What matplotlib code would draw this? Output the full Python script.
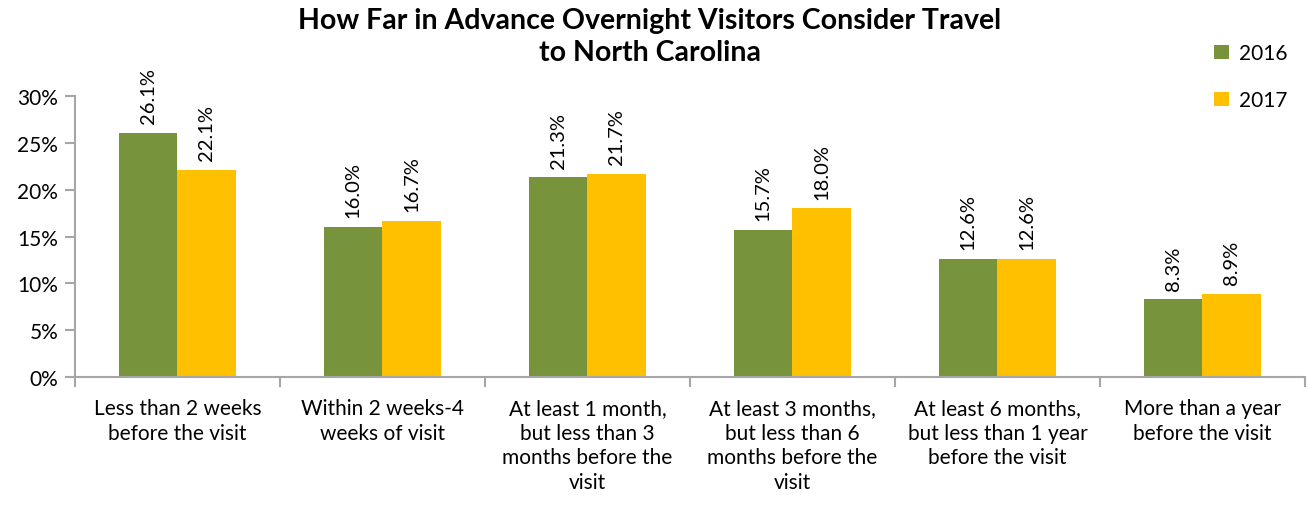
"""
advance planning chart for overnight visitors
"""
import numpy as np
import matplotlib.pyplot as plt

categories = [
    'Less than 2 weeks\nbefore the visit',
    'Within 2 weeks-4\nweeks of visit',
    'At least 1 month,\nbut less than 3\nmonths before the\nvisit',
    'At least 3 months,\nbut less than 6\nmonths before the\nvisit',
    'At least 6 months,\nbut less than 1 year\nbefore the visit',
    'More than a year\nbefore the visit',
]
values_2016 = [26.1, 16.0, 21.3, 15.7, 12.6, 8.3]
values_2017 = [22.1, 16.7, 21.7, 18.0, 12.6, 8.9]
series_labels = ['2016', '2017']

GREEN = '#77933C'
YELLOW = '#FFC000'
AXIS_GRAY = '#A6A6A6'

plt.rcParams['font.family'] = ['Lato', 'DejaVu Sans']

fig = plt.figure(figsize=(13.13, 5.10), dpi=100)
ax = fig.add_axes([0.0571, 0.2588, 0.9368, 0.551])

x = np.arange(len(categories))
width = 0.285

bars16 = ax.bar(x - width / 2, values_2016, width, color=GREEN, label=series_labels[0])
bars17 = ax.bar(x + width / 2, values_2017, width, color=YELLOW, label=series_labels[1])

for bars in (bars16, bars17):
    for rect in bars:
        h = rect.get_height()
        ax.annotate(f'{h:.1f}%', (rect.get_x() + rect.get_width() / 2, h),
                    xytext=(0, 7), textcoords='offset points',
                    rotation=90, ha='center', va='bottom', fontsize=14.5)

ax.set_xlim(-0.5, len(categories) - 0.5)
ax.set_ylim(0, 30)
ax.set_yticks(np.arange(0, 31, 5))
ax.set_yticklabels([f'{v}%' for v in range(0, 31, 5)], fontsize=15)

# boundaries as major ticks, labels on minor ticks
ax.set_xticks(np.arange(-0.5, len(categories)), minor=False)
ax.set_xticklabels([])
ax.set_xticks(x, minor=True)
ax.set_xticklabels(categories, minor=True, fontsize=15, linespacing=1.3, va='top')
ax.tick_params(axis='x', which='minor', length=0, pad=15)
ax.tick_params(axis='x', which='major', length=7, color=AXIS_GRAY, width=1.5)
ax.tick_params(axis='y', length=7, color=AXIS_GRAY, width=1.5, pad=5)

for side in ('top', 'right'):
    ax.spines[side].set_visible(False)
for side in ('left', 'bottom'):
    ax.spines[side].set_color(AXIS_GRAY)
    ax.spines[side].set_linewidth(1.5)

fig.text(0.495, 0.985, 'How Far in Advance Overnight Visitors Consider Travel\nto North Carolina',
         ha='center', va='top', fontsize=20.5, fontweight='bold', linespacing=1.28)

fig.legend(loc='upper right', bbox_to_anchor=(0.995, 0.95), frameon=False,
           fontsize=15, handlelength=0.7, handleheight=0.7, labelspacing=1.3,
           handletextpad=0.5)

fig.savefig('out.png', dpi=100)
